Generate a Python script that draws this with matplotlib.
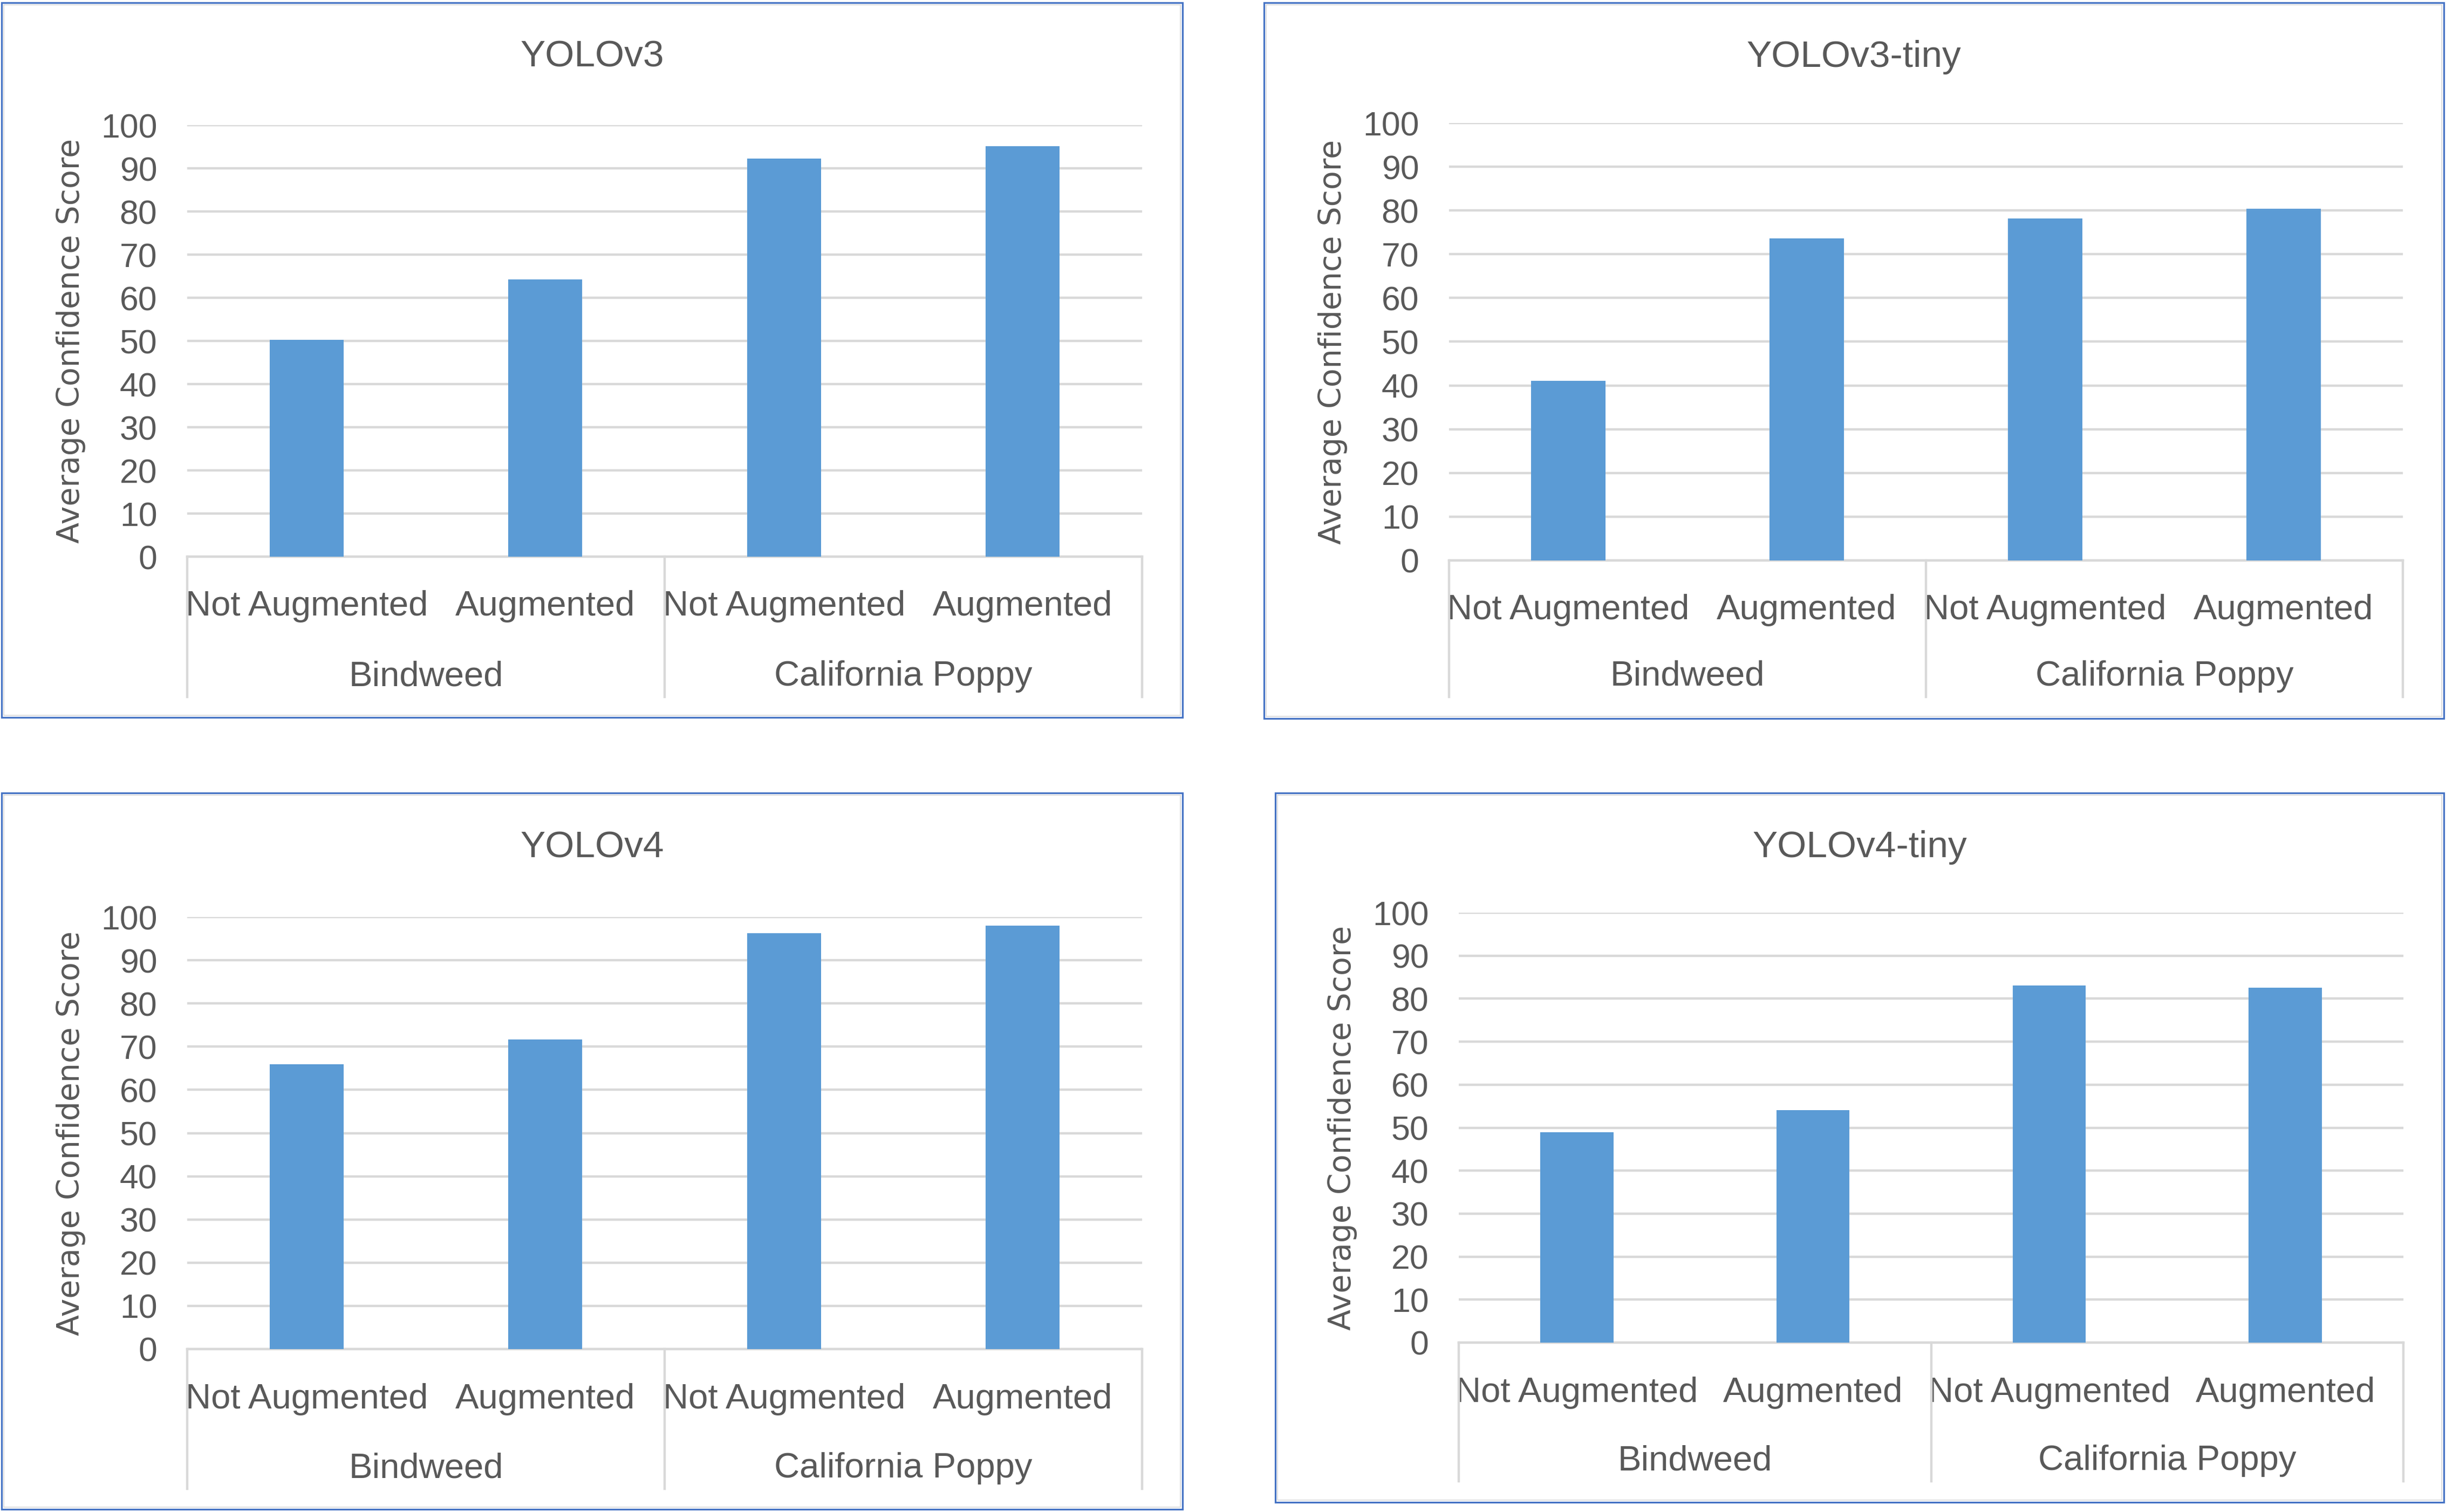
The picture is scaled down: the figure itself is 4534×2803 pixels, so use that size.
import matplotlib
matplotlib.use("Agg")
from matplotlib import pyplot as plt
from matplotlib.patches import Rectangle
import matplotlib.transforms as mtransforms

# データ
titles = ["YOLOv3", "YOLOv3-tiny", "YOLOv4", "YOLOv4-tiny"]
sub_labels = ["Not Augmented", "Augmented", "Not Augmented", "Augmented"]
group_labels = ["Bindweed", "California Poppy"]
yolov3 = [50.3, 64.2, 92.2, 95.1]
yolov3_tiny = [41.1, 73.6, 78.2, 80.4]
yolov4 = [65.9, 71.7, 96.3, 98.0]
yolov4_tiny = [48.9, 54.1, 83.1, 82.5]
y_ticks = list(range(0, 101, 10))
y_label = "Average Confidence Score"

W, H = 4534, 2803
BAR = "#5B9BD5"
GRID = "#D9D9D9"
TXT = "#595959"
FRAME = "#4472C4"

# パネルの配置 (ピクセル): 枠(left, top, right, bottom), プロット(left, top, right, bottom), カテゴリ軸下端
panels = [
    dict(frame=(3, 5, 2192, 1330), plot=(347, 232, 2117, 1032), cat_bottom=1292),
    dict(frame=(2343, 5, 4530, 1332), plot=(2686, 228, 4454, 1039), cat_bottom=1292),
    dict(frame=(3, 1470, 2192, 2798), plot=(347, 1700, 2117, 2501), cat_bottom=2760),
    dict(frame=(2364, 1470, 4530, 2785), plot=(2704, 1692, 4455, 2489), cat_bottom=2746),
]
series = [yolov3, yolov3_tiny, yolov4, yolov4_tiny]

fig = plt.figure(figsize=(W / 100, H / 100), dpi=100)
fig.patch.set_facecolor("white")


def px_rect(l, t, r, b):
    return (l / W, 1 - b / H, (r - l) / W, (b - t) / H)


for title, values, p in zip(titles, series, panels):
    # 枠
    fl, ft, fr, fb = p["frame"]
    x0, y0, w, h = px_rect(fl, ft, fr, fb)
    fig.patches.append(Rectangle((x0, y0), w, h, transform=fig.transFigure,
                                 fill=False, edgecolor=FRAME, linewidth=2.3, zorder=5))
    x1, y1, w1, h1 = px_rect(fl + 4, ft + 4, fr - 4, fb - 4)
    fig.patches.append(Rectangle((x1, y1), w1, h1, transform=fig.transFigure,
                                 fill=False, edgecolor=GRID, linewidth=1.2, zorder=5))

    pl, pt, pr, pb = p["plot"]
    ax = fig.add_axes(px_rect(pl, pt, pr, pb))
    x = list(range(len(values)))
    ax.bar(x, values, width=0.31, color=BAR, zorder=3)
    ax.set_xlim(-0.5, 3.5)
    ax.set_ylim(0, 100)
    ax.set_yticks(y_ticks)
    ax.yaxis.grid(True, color=GRID, linewidth=3.2, zorder=0)
    ax.set_axisbelow(True)
    for s in ["top", "right", "left"]:
        ax.spines[s].set_visible(False)
    ax.spines["bottom"].set_color(GRID)
    ax.spines["bottom"].set_linewidth(3.2)
    ax.tick_params(axis="y", length=0, pad=40, labelsize=45, labelcolor=TXT)
    for lab in ax.get_yticklabels():
        lab.set_fontfamily("Liberation Sans")

    # 2段のカテゴリ軸
    plot_h = pb - pt
    cat_frac = (p["cat_bottom"] - pb) / plot_h
    ax.set_xticks(x)
    ax.set_xticklabels(sub_labels, fontsize=47, color=TXT, fontfamily="Liberation Sans")
    ax.tick_params(axis="x", length=0, pad=45)
    trans = mtransforms.blended_transform_factory(ax.transData, ax.transAxes)
    for xv in [-0.5, 1.5, 3.5]:
        ax.axvline(xv, ymin=-cat_frac, ymax=0, color=GRID, linewidth=3.2, clip_on=False)
    grp_y = -(p["cat_bottom"] - pb - 38) / plot_h
    for gx, gl in zip([0.5, 2.5], group_labels):
        ax.text(gx, grp_y, gl, transform=trans, ha="center", va="center",
                fontsize=47, color=TXT, fontfamily="Liberation Sans")

    # タイトル (枠の中央)
    cx = (fl + fr) / 2 / W
    ty = 1 - (ft + 101) / H
    fig.text(cx, ty, title, ha="center", va="center", fontsize=50,
             color=TXT, fontfamily="Liberation Sans")

    ax.set_ylabel(y_label, fontsize=41, color=TXT, fontfamily="DejaVu Sans", labelpad=20)

fig.savefig("out.png", dpi=100, facecolor="white")
